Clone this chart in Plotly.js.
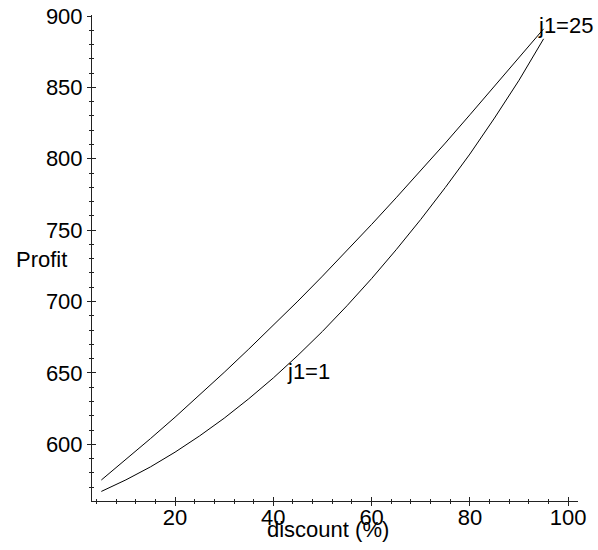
<!DOCTYPE html>
<html>
<head>
<meta charset="utf-8">
<script src="https://cdn.plot.ly/plotly-3.0.1.min.js"></script>
<style>html,body{margin:0;padding:0;background:#fff;}#chart{width:598px;height:550px;}</style>
</head>
<body>
<div id="chart"></div>
<script>
// discount (%) values
const discount = [5, 10, 15, 20, 25, 30, 35, 40, 45, 50, 55, 60, 65, 70, 75, 80, 85, 90, 95];
// Profit for j1=25 (upper curve)
const profitJ25 = [575, 589.3, 604.0, 619.0, 634.5, 650.4, 666.7, 683.2, 700.3, 717.8, 735.7, 754.0, 772.7, 791.7, 811.0, 830.8, 850.8, 870.9, 891.0];
// Profit for j1=1 (lower curve)
const profitJ1 = [567, 575.1, 584.2, 594.5, 605.9, 618.3, 631.9, 646.5, 662.3, 679.1, 697.1, 716.1, 736.3, 757.5, 779.9, 803.3, 828.5, 855.0, 884.0];
const curveLabels = ["j1=25", "j1=1"];
const labelPos = [[93.65, 893], [42.6, 650.8]];
const xTitle = "discount (%)";
const yTitle = "Profit";

const font = {family: "Liberation Sans, Arial, sans-serif", size: 22, color: "#000"};
const xr = [3.1, 102];
const yr = [560.3, 900.7];

const traces = [
  {x: discount, y: profitJ25, mode: "lines", line: {color: "#000", width: 1}, hoverinfo: "skip", showlegend: false},
  {x: discount, y: profitJ1, mode: "lines", line: {color: "#000", width: 1}, hoverinfo: "skip", showlegend: false},
  {x: [], y: [], xaxis: "x2", yaxis: "y2", mode: "lines", showlegend: false}
];

const baseAxis = {
  showgrid: false, zeroline: false, showline: true, linecolor: "#222", linewidth: 1,
  tickcolor: "#222", tickwidth: 1, tickfont: font, fixedrange: true
};

const layout = {
  width: 598, height: 550,
  margin: {l: 92, r: 20, t: 15, b: 49, pad: 0},
  paper_bgcolor: "#fff", plot_bgcolor: "#fff",
  font: font,
  showlegend: false,
  xaxis: Object.assign({}, baseAxis, {
    range: xr, tickmode: "linear", tick0: 0, dtick: 20,
    ticks: "outside", ticklen: 4, ticklabelstandoff: -7,
    minor: {ticks: "outside", ticklen: 2, dtick: 4, tick0: 0, tickcolor: "#222", showgrid: false}
  }),
  yaxis: Object.assign({}, baseAxis, {
    range: yr, tickmode: "linear", tick0: 0, dtick: 50,
    ticks: "outside", ticklen: 4,
    minor: {ticks: "outside", ticklen: 2, dtick: 10, tick0: 0, tickcolor: "#222", showgrid: false}
  }),
  xaxis2: Object.assign({}, baseAxis, {
    overlaying: "x", anchor: "y2", side: "bottom", range: xr, showline: false, showticklabels: false,
    tickmode: "linear", tick0: 0, dtick: 20, ticks: "inside", ticklen: 4,
    minor: {ticks: "inside", ticklen: 2, dtick: 4, tick0: 0, tickcolor: "#222", showgrid: false}
  }),
  yaxis2: Object.assign({}, baseAxis, {
    overlaying: "y", anchor: "x2", side: "left", range: yr, showline: false, showticklabels: false,
    tickmode: "linear", tick0: 0, dtick: 50, ticks: "inside", ticklen: 4,
    minor: {ticks: "inside", ticklen: 2, dtick: 10, tick0: 0, tickcolor: "#222", showgrid: false}
  }),
  annotations: [
    {text: curveLabels[0], x: labelPos[0][0], y: labelPos[0][1], xref: "x", yref: "y", xanchor: "left", yanchor: "middle", showarrow: false, font: font, borderpad: 0},
    {text: curveLabels[1], x: labelPos[1][0], y: labelPos[1][1], xref: "x", yref: "y", xanchor: "left", yanchor: "middle", showarrow: false, font: font, borderpad: 0},
    {text: yTitle, x: -0.158, y: 0.496, xref: "paper", yref: "paper", xanchor: "left", yanchor: "middle", showarrow: false, font: font, borderpad: 0},
    {text: xTitle, x: 0.4856, y: -0.058, xref: "paper", yref: "paper", xanchor: "center", yanchor: "middle", showarrow: false, font: font, borderpad: 0}
  ]
};

Plotly.newPlot("chart", traces, layout, {staticPlot: true, displayModeBar: false});
</script>
</body>
</html>
